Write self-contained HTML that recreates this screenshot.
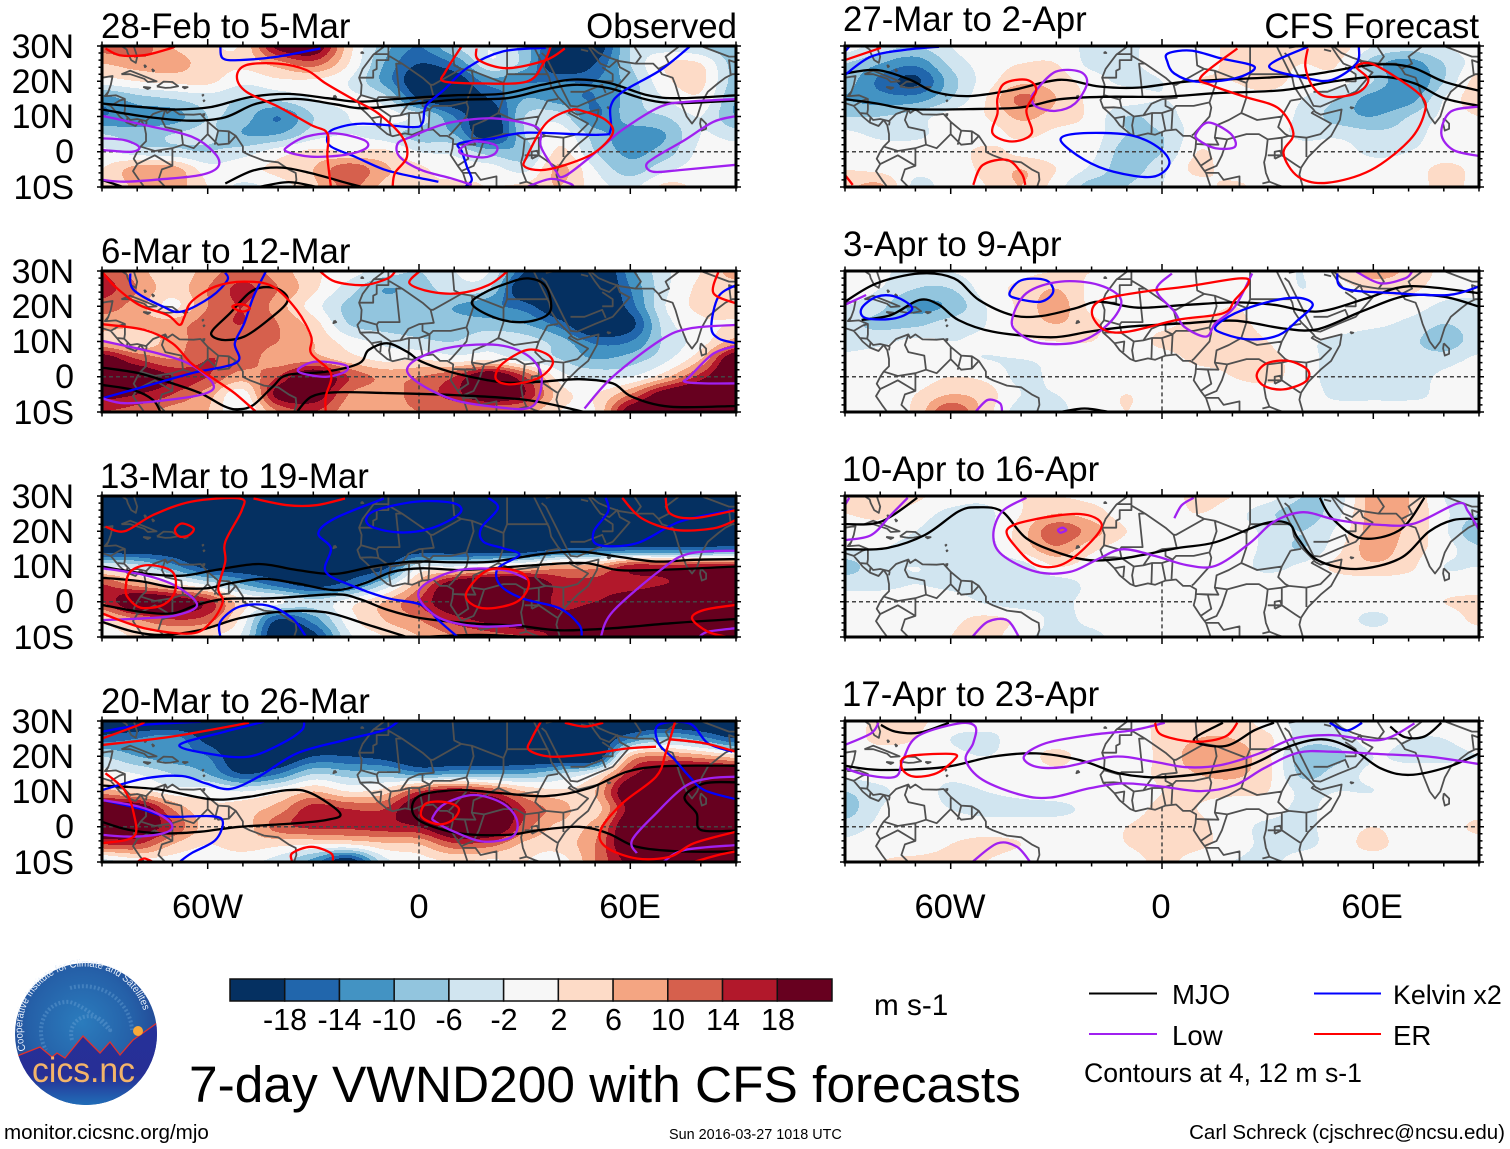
<!DOCTYPE html>
<html lang="en">
<head>
<meta charset="utf-8">
<title>7-day VWND200 with CFS forecasts</title>
<style>
html,body{margin:0;padding:0;background:#fff;}
svg{display:block;font-family:"Liberation Sans",sans-serif;fill:#000;}
</style>
</head>
<body>
<svg id="figure" xmlns="http://www.w3.org/2000/svg" width="1510" height="1149" viewBox="0 0 1510 1149">
<rect width="1510" height="1149" fill="#fff"/>
<g id="panels"></g>

<g font-size="34.8">
<text x="101" y="38">28-Feb to 5-Mar</text>
<text x="101" y="263">6-Mar to 12-Mar</text>
<text x="100" y="488">13-Mar to 19-Mar</text>
<text x="101" y="713">20-Mar to 26-Mar</text>
<text x="843" y="31">27-Mar to 2-Apr</text>
<text x="843" y="256">3-Apr to 9-Apr</text>
<text x="842" y="481">10-Apr to 16-Apr</text>
<text x="842" y="706">17-Apr to 23-Apr</text>
<text x="737" y="38" text-anchor="end">Observed</text>
<text x="1479" y="38" text-anchor="end">CFS Forecast</text>
</g>

<g font-size="34" text-anchor="end">
<text x="74" y="58">30N</text>
<text x="74" y="93">20N</text>
<text x="74" y="128">10N</text>
<text x="74" y="163">0</text>
<text x="74" y="199">10S</text>
<text x="74" y="283">30N</text>
<text x="74" y="318">20N</text>
<text x="74" y="353">10N</text>
<text x="74" y="388">0</text>
<text x="74" y="424">10S</text>
<text x="74" y="508">30N</text>
<text x="74" y="543">20N</text>
<text x="74" y="578">10N</text>
<text x="74" y="613">0</text>
<text x="74" y="649">10S</text>
<text x="74" y="733">30N</text>
<text x="74" y="768">20N</text>
<text x="74" y="803">10N</text>
<text x="74" y="838">0</text>
<text x="74" y="874">10S</text>
</g>

<g font-size="34.6" text-anchor="middle">
<text x="207.5" y="918">60W</text>
<text x="419" y="918">0</text>
<text x="630" y="918">60E</text>
<text x="950" y="918">60W</text>
<text x="1161" y="918">0</text>
<text x="1372" y="918">60E</text>
</g>

<g id="colorbar"></g>
<g font-size="30.5" text-anchor="middle">
<text x="285" y="1030">-18</text>
<text x="339.5" y="1030">-14</text>
<text x="394" y="1030">-10</text>
<text x="449" y="1030">-6</text>
<text x="504" y="1030">-2</text>
<text x="559" y="1030">2</text>
<text x="613.5" y="1030">6</text>
<text x="668" y="1030">10</text>
<text x="723" y="1030">14</text>
<text x="778" y="1030">18</text>
</g>
<text x="874" y="1015" font-size="29.7">m s-1</text>

<text x="189" y="1102" font-size="51.45">7-day VWND200 with CFS forecasts</text>

<g font-size="27.6">
<line x1="1089" x2="1157" y1="993.5" y2="993.5" stroke="#000" stroke-width="2"/>
<text x="1172" y="1004">MJO</text>
<line x1="1314" x2="1381" y1="993.5" y2="993.5" stroke="#0000ff" stroke-width="2"/>
<text x="1393" y="1004" font-size="26.8">Kelvin x2</text>
<line x1="1089" x2="1157" y1="1034" y2="1034" stroke="#a020f0" stroke-width="2"/>
<text x="1172" y="1045">Low</text>
<line x1="1314" x2="1381" y1="1034" y2="1034" stroke="#ff0000" stroke-width="2"/>
<text x="1393" y="1045">ER</text>
<text x="1084" y="1082" font-size="26.6">Contours at 4, 12 m s-1</text>
</g>

<text x="4" y="1139" font-size="20.6">monitor.cicsnc.org/mjo</text>
<text x="669" y="1139" font-size="14.4">Sun 2016-03-27 1018 UTC</text>
<text x="1505" y="1139" font-size="20.5" text-anchor="end">Carl Schreck (cjschrec@ncsu.edu)</text>

<g>
<defs>
<radialGradient id="logoSky" cx="0.47" cy="0.42" r="0.62">
<stop offset="0" stop-color="#2b7cbd"/><stop offset="0.6" stop-color="#2560a8"/><stop offset="1" stop-color="#23408f"/>
</radialGradient>
<linearGradient id="logoGround" x1="0" y1="0" x2="0" y2="1">
<stop offset="0" stop-color="#26309a"/><stop offset="0.6" stop-color="#272f95"/><stop offset="1" stop-color="#1f78bd"/>
</linearGradient>
<clipPath id="logoClip"><circle cx="86" cy="1034" r="71"/></clipPath>
<path id="logoRing" d="M 26 1050 A 62 62 0 1 1 146 1024"/>
</defs>
<circle cx="86" cy="1034" r="71" fill="url(#logoSky)"/>
<path d="M 72 1040 C 66 1018 92 1008 106 1024 C 120 1044 96 1010 70 1002 C 44 1000 34 1030 46 1050 M 70 988 C 100 980 130 1000 132 1030" fill="none" stroke="#6fa6d6" stroke-width="4" stroke-dasharray="2 2" opacity="0.4"/>
<g clip-path="url(#logoClip)">
<path d="M 10 1058 L 17 1056 L 40 1047 L 52 1057 L 57 1053 L 65 1058 L 83 1036 L 100 1053 L 110 1042 L 120 1055 L 133 1040 L 157 1023 L 165 1023 L 165 1110 L 10 1110 Z" fill="url(#logoGround)" stroke="#e0322e" stroke-width="1.3"/>
</g>
<circle cx="138" cy="1031" r="5" fill="#f8a93a"/>
<text x="32" y="1082" font-size="35" fill="#f4b469" textLength="103" lengthAdjust="spacingAndGlyphs">cics.nc</text>
<text font-size="10.4" fill="#e8f0fa"><textPath href="#logoRing" textLength="198" lengthAdjust="spacingAndGlyphs">Cooperative Institute for Climate and Satellites</textPath></text>
</g>
</svg>

<script>
/* ---------- axes and colour classes ---------- */
const lons = [-90,-80,-70,-60,-50,-40,-30,-20,-10,0,10,20,30,40,50,60,70,80,90];
const lats = [30,25,20,15,10,5,0,-5,-10];
const breaks = [-18,-14,-10,-6,-2,2,6,10,14,18];
const bandColors = ['#053061','#2166ac','#4393c3','#92c5de','#d1e5f0','#f7f7f7','#fddbc7','#f4a582','#d6604d','#b2182b','#67001f'];
const panelKeys = ['feb28','mar06','mar13','mar20','mar27','apr03','apr10','apr17'];

/* ---------- 200 hPa meridional wind anomaly, m/s: rows by lats, columns by lons ---------- */
const windFeb28 = [
[12,13,6,3,3,20,23,4,-8,-14,-6,-2,-8,-20,-22,-6,-4,-6,-10],
[6,8,8,4,3,8,12,2,-10,-18,-14,-3,-8,-24,-18,-6,2,2,-8],
[0,2,3,3,-1,1,1,-2,-11,-22,-22,-12,-14,-14,-14,-8,1,3,-8],
[-12,-8,-6,-4,-6,-5,-2,-1,-4,-18,-22,-18,-10,-12,-14,-8,-2,1,-10],
[-14,-12,-12,-6,-8,-14,-6,-2,0,-4,-14,-22,-6,-4,-14,-8,-6,-2,-10],
[-6,-8,-6,-5,-10,-10,-4,-2,-4,-8,-10,-22,-6,0,-8,-12,-10,-2,-4],
[-1,-4,-5,-6,-4,0,3,2,3,-2,-3,-8,-8,3,-6,-11,-8,-1,0],
[2,8,8,0,1,3,6,13,7,3,0,0,-3,7,-2,-8,-3,0,0],
[2,7,8,2,-3,0,5,11,5,2,3,2,3,6,0,-3,3,1,0]];
const windMar06 = [
[14,8,3,8,12,8,3,0,-4,-6,-2,-2,-18,-26,-26,-12,-3,2,8],
[16,10,4,10,15,10,3,-4,-10,-8,-4,-6,-24,-26,-26,-14,-3,3,4],
[12,8,1,10,14,8,0,-7,-8,-8,-10,-13,-16,-24,-26,-16,-2,3,4],
[8,7,8,12,14,10,4,-6,-8,-8,-8,-8,-10,-16,-26,-20,-4,1,2],
[6,3,8,12,12,10,6,0,-3,-5,-6,-3,-4,-8,-15,-14,-5,0,8],
[22,14,10,14,12,8,8,4,1,2,0,1,-3,-6,-10,-8,-3,6,24],
[24,24,18,14,8,14,24,14,9,10,14,24,14,0,-3,-2,5,16,26],
[20,18,14,8,0,20,22,10,8,12,16,24,18,4,2,10,22,26,26],
[14,12,8,6,-2,10,14,8,8,10,10,9,8,2,2,22,26,26,26]];
const windMar13 = [
[-24,-24,-24,-24,-24,-24,-24,-24,-24,-24,-24,-24,-24,-24,-24,-24,-24,-24,-24],
[-24,-24,-24,-24,-24,-24,-24,-24,-24,-24,-24,-24,-24,-24,-24,-24,-24,-24,-24],
[-24,-24,-24,-24,-24,-24,-24,-24,-24,-24,-24,-24,-24,-24,-24,-24,-24,-24,-24],
[-22,-22,-22,-24,-24,-24,-24,-24,-24,-22,-22,-22,-22,-18,-17,-16,-16,-16,-15],
[-2,-4,-12,-20,-22,-22,-22,-22,-20,-3,-2,2,4,8,8,16,16,17,18],
[14,8,3,-3,-10,-16,-20,-16,-6,8,22,26,26,16,16,16,18,22,24],
[14,24,22,16,3,-1,-5,0,6,14,24,26,26,16,18,22,26,26,26],
[4,10,14,12,0,-18,-12,0,6,10,16,20,24,20,26,26,26,26,26],
[-2,3,4,2,-3,-24,-20,-3,2,6,10,12,14,20,26,26,26,26,26]];
const windMar20 = [
[-24,-24,-24,-24,-24,-24,-24,-24,-24,-24,-24,-24,-24,-24,-24,-24,-24,-24,-24],
[-16,-14,-12,-20,-24,-24,-24,-24,-24,-24,-24,-24,-24,-24,-24,-14,-8,-12,-18],
[-6,-10,-12,-14,-24,-24,-18,-18,-20,-24,-24,-24,-24,-24,-24,6,10,8,4],
[0,-2,-6,-10,-18,-14,-6,-8,-8,-12,-10,-10,-10,-6,0,16,24,24,24],
[8,4,0,0,-2,1,6,2,4,14,18,14,6,3,6,24,26,26,26],
[24,24,10,3,4,8,16,14,14,24,26,26,14,8,4,20,26,26,26],
[24,24,14,4,4,12,15,15,16,18,26,26,12,5,8,24,26,26,26],
[14,14,6,2,4,3,2,2,5,6,13,12,5,4,10,24,26,26,26],
[-4,0,0,-1,-1,-4,-12,-22,-4,0,2,1,2,0,10,20,26,26,26]];
const windMar27 = [
[0,-4,-6,-2,2,0,0,-3,-3,0,0,3,3,2,4,-2,-4,-2,0],
[-6,-10,-13,-5,0,2,2,-3,-3,0,0,3,3,2,2,-8,-12,-6,0],
[-8,-15,-19,-8,0,5,4,0,-3,-2,2,2,4,0,0,-6,-14,-6,4],
[-10,-12,-12,-6,2,11,6,1,0,-2,0,0,0,-2,-6,-12,-12,-2,5],
[-6,-6,-4,0,2,7,4,1,-6,-4,0,0,0,-3,-8,-10,-6,-1,2],
[-1,-3,-3,0,0,3,1,0,-6,-6,0,0,0,-3,-3,-5,-4,0,0],
[1,0,0,0,3,1,0,-1,-8,-6,2,0,0,0,0,-3,-2,0,0],
[2,1,-1,0,3,6,2,-3,-8,-3,3,0,0,0,0,0,0,3,1],
[5,7,-3,0,2,6,0,-8,-6,-2,0,3,0,0,0,0,0,3,1]];
const windApr03 = [
[0,-1,-4,-2,0,1,2,2,0,0,0,0,0,-2,3,8,5,1,0],
[0,-2,-6,-6,0,3,6,1,0,0,0,0,0,-2,0,3,3,0,0],
[-2,-5,-11,-9,-2,3,8,1,0,0,0,2,0,-1,0,0,0,-3,-4],
[-5,-7,-7,-4,-2,3,6,3,0,1,3,3,1,0,0,-1,-3,-6,-4],
[-4,-3,-1,-2,-1,1,2,2,0,3,4,3,2,-1,-3,-5,-5,-8,-4],
[-1,0,0,-1,-2,-2,-1,0,0,0,3,3,3,0,-4,-4,-4,-4,-1],
[-2,0,0,2,1,-3,-1,0,0,0,0,2,3,0,-4,-4,-4,-1,2],
[0,0,2,6,4,-2,-2,0,2,0,0,0,0,0,-3,-3,-3,-1,1],
[0,0,3,14,4,-4,-3,0,2,0,0,0,0,-2,0,0,0,-2,0]];
const windApr10 = [
[4,6,3,0,-1,2,2,1,0,0,3,2,0,-6,-4,8,6,-2,-6],
[2,3,0,-3,-3,2,6,4,0,0,2,0,-5,-8,-3,8,6,-1,-6],
[0,0,-2,-4,-3,4,13,8,2,0,0,0,-3,-6,-1,8,5,-1,-10],
[-2,-2,-3,-4,-4,3,9,3,0,0,0,0,-3,-6,1,8,4,0,-5],
[-8,-3,-2,-3,-4,-4,2,0,0,0,0,0,-3,-1,3,5,3,-2,-2],
[-3,-3,-2,-3,-4,-4,-4,-1,0,0,0,0,0,0,0,0,0,0,0],
[-1,0,0,0,-2.5,-4,-3,-1,0,0,0,0,0,0,0,0,0,2,3],
[0,0,0,1,3,1,-3,-1,0,0,0,0,0,0,0,-3,0,0,3],
[2,0,0,2,4,-1,-3,-3,0,0,0,0,0,0,0,0,0,0,0]];
const windApr17 = [
[0,3,3,0,0,-2,0,0,0,3,4,4,0,-3,-2,2,0,0,0],
[0,3,2,-2,-3,0,0,0,0,3,6,6,3,-4,-4,0,-2,-2,0],
[0,0,0,-1,-2,0,3,0,0,3,8,8,3,-8,-7,-2,-3,-3,-2],
[-1,0,0,-1,0,0,1,0,0,3,6,7,3,-7,-4,-1,0,0,0],
[-6,-3,0,-3,-2,-1,0,0,0,2,3,3,2,-3,-2,-2,0,0,0],
[-8,-2,0,-2,-3,-3,-3,-1,0,3,2,0,0,-3,0,0,0,0,0],
[-4,-1,0,0,0,0,0,0,2,4,3,0,-3,-3,0,2,0,0,3],
[-1,0,0,2,3,2,0,0,2,4,3,0,-3,-3,0,3,0,0,0],
[0,2,3,3,2,0,0,0,0,3,0,-2,-3,0,0,0,0,0,0]];

/* ---------- contours: flat lon,lat pairs. A repeated first point closes the loop ---------- */
const mjoFeb28 = [
[-90,13.7,-78,12.6,-69,12,-59,12.7,-48,15.5,-37,16.4,-26,15.2,-17,14.2,-6,15,10,16,24,16.5,35,19,44,20.5,54,19.5,65,16,74,15.2,90,16],
[-90,12,-78,10,-65,8.8,-55,9.8,-46,13.7,-35,15,-24,13.5,-16,12.3,-3,13.5,10,14.7,25,15.2,35,17.5,44,19,54,18,65,14.7,74,13.8,90,14.5],
[-55,-9,-47,-5.3,-39,-4.5,-31,-6,-20,-9,-16,-10],
[-45.5,-10,-37,-8.6,-29,-10],
[-90,-8,-84,-10]];
const kelvinFeb28 = [
[-56.4,29.8,-55.7,26.5,-51,26,-40,27,-28,29.3],
[76.8,29.8,68.6,23.2,57.8,17,54.4,12.8,54.4,6.2,51,4.8,30.6,5.4,21,3.8,11.5,2.4,12.2,0,13.6,-4.2,15,-8,13,-10],
[36,29.5,24,28.5,14,24,7,17.5,2,13,1,8.2,-2,7,-16,8,-24,6.5,-26,4.3,-25,1.5,-18,-1.5,-10,-5,-2,-7,5.5,-8.5]];
const erFeb28 = [
[12,29.8,7.5,22.7,7,20,17,19.4,30.6,19.9,35.3,25,37.4,29.8],
[16.3,29.3,17,26,25,23.7,36,26,41.4,29.3],
[-25,-10,-26,-1.4,-26,5.2,-30.6,7.6,-40,12.8,-49,17,-51.7,21.3,-49,24.6,-40,25,-32,23.2,-26.5,19.4,-18.4,14.7,-11.6,10.9,-4.8,4.3,-3.4,-1.4,-6.8,-6,-7.5,-10],
[42.8,11.8,36,8,30.6,-1.4,30,-4.2,34.6,-5.2,41.4,-3.8,49.6,-0.4,55,5.2,53,9,47,11.4,42.8,11.8],
[-89,29.3,-85,27.4,-78,27.4,-72,28.9,-69.3,29.8]];
const lowFeb28 = [
[-90,10.2,-78,7.6,-64.6,4.3,-58,-0.4,-57,-4.2,-62,-6.6,-73,-7.8,-83.6,-8.5,-90,-8],
[-90,3.8,-83.6,3.3,-79.5,1.4,-81.6,0,-90,0.5],
[-37.4,1.4,-32,4.3,-23.8,5.2,-15.6,3.3,-15,1,-21,-0.9,-30.6,-1.4,-37.4,0,-37.4,1.4],
[15,-9.4,9,-7.5,0.7,-5.2,-5.5,-1.4,-6,2.4,-2,4.3,3.4,6.6,10,8.5,21,9.5,32,7.6,34.6,5.2,34.6,1.4,38.7,-5.2,41.4,-6.9,51,0.5,57.7,6.2,68.6,12.8,76.8,14.2,90,14.9],
[11.5,0.5,15.6,2.9,21.7,1.9,21.7,-0.4,18.3,-1.6,13,-0.9,11.5,0.5],
[30.6,-10,37.4,-7.7,42.8,-9,44,-10],
[90,10.1,83.6,8.5,75.4,3.3,67.3,-1.4,64.5,-3.8,66.6,-5.7,74,-5.2,90,-3.7]];

const mjoMar06 = [
[15,20.8,18.3,23.7,25,26.5,31,27.9,36,25.6,37.4,18.9,33.2,16.1,26.5,15.6,19.7,17.5,15,20.8],
[-58.5,13.3,-53.7,18,-48.3,23.7,-44.2,25.4,-39.4,24.6,-37.4,21.3,-42.8,16.1,-49.6,11.4,-55,10.4,-58.5,11.4,-58.5,13.3],
[-90,2.6,-79.5,1,-70,-1.9,-62,-4.7,-55,-8.5,-51,-9.2,-47,-8,-41.5,-2.8,-37.4,0.5,-26.5,1.4,-17,3.8,-14.3,7.6,-9,9.5,-3.4,7.1,0.7,4.3,8.8,1.4,17,-0.5,25,-1.7,34.6,-1.4,45.5,-0.7,55,-1.9,60.5,-5.7,71.3,-8.5,90,-8.3],
[-90,-2.3,-81,-3.8,-75.5,-6.6,-73.4,-10],
[-34.7,-10,-30.6,-5.7,-23.8,-4.4,-10,-4.6,10,-5.2,30.6,-6.6,47,-10]];
const kelvinMar06 = [
[-82,29.3,-81,24.6,-72.7,19.9,-67.3,18.5,-59,22.7,-54.4,27.4,-55,29.5],
[-43.5,29.8,-47,22.7,-49.6,15.2,-52.3,9.5,-51.7,4.1,-64.6,1,-78,-2.8,-90,-6.1],
[90,26,85,22.7,83,14.2,85,10.9,90,9.5]];
const erMar06 = [
[-28,29.8,-23.8,27,-15.6,26,-8.9,27.9,-6.8,29.8],
[0,29.8,-2.7,26.5,3.4,24.1,11.5,23.7,19.7,26,25,29.8],
[-90,29.8,-86.3,25.6,-79.5,20.4,-71.4,17.5,-68,14.7,-66.6,17,-64.6,21.3,-57.8,25.6,-49.6,27,-41.5,25.6,-34.7,18.9,-30.6,11.4,-30.6,6.6,-25,1,-26.5,-5.7,-26.5,-10],
[-90,14.9,-78,13.3,-70,9.5,-64.6,3.8,-57.8,-0.9,-52.3,-4.7,-46.2,-10],
[-53,19.9,-50.3,20.6,-48,19.4,-50.3,18.5,-53,19.9],
[21.7,0,23.8,3.8,30.6,7.6,36,6.6,38,3.8,34.6,0,28.5,-1.9,23.8,-1.9,21.7,0],
[85,29.8,83.6,23.7,90,20.8]];
const lowMar06 = [
[-90,10.2,-74,6.6,-64.6,3.3,-58.5,-1.9,-60.5,-4.7,-71.4,-6.6,-83.6,-7.5,-90,-6.1],
[-34,2.4,-29.2,4.3,-21,3.3,-21,1.4,-26.5,0,-33.3,1,-34,2.4],
[-3.4,1.9,0.7,5.7,10,8.5,22.4,9,30.6,6.2,34.6,1,34,-5.7,30.6,-9,21,-8.5,10,-6.6,0.7,-2.3,-3.4,1.9],
[47,-9,55,0,68.6,10.4,76.8,13.7,90,14.7],
[90,8.7,83.6,6.6,76.8,0,75.4,-1.4,81,-1.9,90,-1.9]];

const mjoMar13 = [
[-90,10,-78,8,-67.3,7.4,-57.8,9,-45.5,10.7,-34.7,9,-23.8,7.9,-13,10,-2,11.4,10,11.2,21,11.4,34.6,13.5,45.5,14.2,56.4,12.8,67.3,11.4,78,11.9,90,12.1],
[-90,6.8,-79.5,5.9,-70,4.1,-60.5,3.8,-53.7,5.2,-44.2,6.5,-34.7,5.2,-23.8,3.3,-15.6,5.2,-7.5,8.5,0.7,9.5,11.5,9,21,9.5,33.2,10.4,47,11,56.4,9,67.3,9,90,10],
[-90,-0.9,-79.5,-2.8,-70,-3.3,-63,-0.9,-55,0.8,-41.5,1,-23.8,2.1,-17,0.8,-8.9,-2.3,0.7,-4.7,14.3,-6.1,27.8,-6.8,40,-8.1,55,-7.5,71.3,-6.1,90,-4.9],
[-90,-5.7,-81,-8.5,-72.7,-9.4,-62,-8,-51,-4.7,-39,-2.8,-26.5,-3,-14.3,-6.6,-3.4,-10],
[0.7,-10,17,-9.4,30.6,-10]];
const kelvinMar13 = [
[-10,29.3,-23.8,23.7,-28.6,19.4,-25,15.2,-26.5,8.5,-18.4,4.3,-8.9,1,0.7,-0.9,6,-5.7,11,-10],
[-14.3,21.8,-13,25.6,-0.7,28.4,10,27.9,11.5,25,3.4,20.8,-6,19.7,-14.3,21.8],
[19.7,29.5,22.4,26.5,17.6,20.8,18.3,17,23.8,15.2,28.5,13.3,22.4,9.5,23,4.8,29.2,1,40,-1.9,45.5,-6.6,46.2,-10],
[53,29.5,53.7,25.6,49.6,19.9,51,16.1,61.8,16.6,74,22.7,89,26],
[-56.4,-10,-56.4,-5.7,-51,-1.4,-42.8,-1.1,-36,-4.7,-32,-10]];
const erMar13 = [
[-89,21.3,-83.6,20,-75.5,24.6,-64.6,28.4,-51,29.3,-50.3,26,-55,17,-55,11.4,-57,3.8,-55.7,0,-59,-5.7,-64.6,-9,-78,-7.5,-90,-3.3],
[-69.3,20.4,-67.3,22.2,-64,20.8,-65.3,18.9,-68,18.5,-69.3,20.4],
[-83.3,3.8,-82,8.5,-76.8,10.4,-70,8.5,-69.3,2.9,-72.7,-0.9,-79,-1.7,-82.5,1,-83.3,3.8],
[-47,29.3,-37.4,27.4,-29.2,27.4,-21,29.3],
[13.6,2.9,19.7,9,28.5,8.5,31.2,4.8,27.8,0,19.7,-1.9,14.7,-0.5,13.6,2.9],
[57.7,29.5,63.2,23.7,72.7,20.4,83.6,20.8,90,23.2],
[70,29.5,71.3,25,78,23.7,90,26],
[90,-0.9,81,-2.3,77.5,-4.7,82,-8.5,87.6,-10]];
const lowMar13 = [
[-90,9.5,-78,7.6,-68.7,4.3,-63,-0.9,-68.7,-3.8,-78,-4.7,-90,-5.2],
[29.2,-6.6,17,-7,6,-4.7,0,1,2,5.2,11.5,9,23.8,9,31.2,6.2],
[51.6,-10,55,-2.8,68.6,9,76.8,13.7,90,14.5],
[79.5,-10,82,-8.5,90,-7.5]];

const mjoMar20 = [
[-90,11.7,-74,10.6,-59,7.8,-48.3,8.5,-37.4,10.4,-30.6,9.5,-22.4,3.8,-26.5,1.9,-37.4,0.8,-51,0,-62,-1.4,-72.7,-1.9,-82.3,-0.9,-90,1.4],
[90,17.3,70,17.2,59,15.6,48.2,10.9,36,8.7,23.8,9.5,11.5,10.4,0.7,9,-2,5.2,0.7,1.4,11.5,-1.9,25,-2.3,34.6,-0.9,45.5,0,53.7,-1.9,61.8,-5.7,74,-7,90,-7],
[90,12.6,81,12.3,75.4,8.5,78.8,3.8,80,-0.9,90,-1.1]];
const kelvinMar20 = [
[-90,10.4,-78,13.7,-67.3,14.4,-60.5,12.3,-53.7,10.7,-45.5,14.2,-34.7,20.8,-21,24.6,-10,27.4,-6,29.8],
[-44,29.8,-55,27,-68,23.2,-59,20.6,-48.3,19.9,-38.8,23.7,-33.3,27.4,-32.6,29.8],
[-90,27,-78,28.9,-62,29.8],
[-90,7.6,-79.5,5.2,-71.4,2.9,-59,3,-55.7,1.4,-57.8,-3.8,-64.6,-7.5,-68,-10],
[89,21.3,82,23.7,76.8,29.3,68,28.9,68,23.7,72.7,18.9,76.8,14.2,81,10.4,90,7.8]];
const erMar20 = [
[-90,25,-79.5,28.9,-78,29.8],
[-90,23.2,-70,25.6,-48.3,29.5],
[34.6,29.8,32,25,31.2,21.8,37.4,19.9,48.2,20.6,59,22.2,67.3,22.7],
[72.7,29.8,70,20.8,67.3,14.2,57.7,6.6,51.6,-0.9,53,-5.7,61.8,-9,71.3,-8.5,78,-4.7,90,-1.4],
[-89,15.2,-83.6,10.4,-81,3.8,-81,-2.8,-90,-4.7],
[0.7,2.9,2,6.6,7.5,7,11.3,5.2,9.5,1.9,5.4,0.7,0.7,2.9],
[-36,-10,-36,-7.5,-30.6,-5.7,-25,-7.5,-24.5,-10],
[-80,-10,-78,-9,-75.5,-10],
[41.4,29.5,47,28.4,52.3,29.5],
[71.3,24.8,81,23.7,90,21.3],
[78,-10,85,-8,90,-7]];
const lowMar20 = [
[-90,7.6,-79.5,5.7,-72.7,2.9,-70,0,-72.7,-1.9,-81,-2.8,-90,-2.3],
[4,2.9,7.5,6.6,15.6,9,23.8,6.6,27.8,1.9,26.5,-2.8,18.3,-4.2,10,-1.4,4.7,1.4,4,2.9],
[61.8,-7.5,60.5,-3.8,67.3,3.8,75.4,11.4,82.2,13.7,90,14.2],
[69.3,-10,75.4,-6.6,90,-5.2]];

const mjoMar27 = [
[-90,22.2,-81,23.2,-71.5,20.4,-64.7,17,-55,15.8,-42.6,17.5,-29,20.4,-17.8,18.5,-6.8,18.2,7,19.9,24.9,20.8,41.4,21.8,59.3,24.6,70.3,24.1,80,19.9,90,17.3],
[-90,14.9,-81,13.7,-71.5,12.1,-55,12.1,-39.9,12.6,-29,14.9,-16.4,15.6,0,15.6,15.2,16.6,34.5,17.5,48.3,19.9,62,21.3,71.7,19.4,80,15.2,90,13]];
const kelvinMar27 = [
[-90,21.8,-82.6,27,-73,28.9,-63.3,29.8],
[-90,28.4,-88.8,29.8],
[1.7,27.9,8.3,28.7,16.6,26.5,26.3,24.1,20.7,20.8,9.7,19.9,3.5,22.2,1.5,25.6,1.7,27.9],
[41.4,29.8,30.4,24.2,41.4,20.8,48.3,20.4,55.2,25,55.9,29.8],
[-28.8,3.3,-23.3,5.2,-9.6,4.8,-1.3,1.4,2.1,-3.3,-2.7,-7.1,-13.7,-5.7,-22,-2.3,-28.8,3.3]];
const erMar27 = [
[-90,26,-79.8,29.5],
[21.4,29.3,11.1,21.3,13.9,18.9,23.5,15.6,33.1,12.3,37.3,5.2,34.5,-0.4,38.7,-7.1,46.9,-8.8,59.3,-5.2,70.3,3.3,74.5,10.9,73.8,15.6,66.2,21.3,59.3,25,55.2,24.1,58.6,20.4,55.2,16.6,46.9,15.6,42.8,18.5,40.7,24.1,41.4,29.3],
[-46.7,15.2,-44.7,19.4,-38.5,20.4,-35.7,17.5,-38.5,11.8,-37,5.2,-42.6,2.9,-48.1,5.2,-46.7,10.9,-46.7,15.2],
[-53.6,-9.4,-50.9,-3.8,-44,-2.3,-39.9,-6.1,-38.8,-9.4],
[-90,-6.6,-87.8,-9.4]];
const lowMar27 = [
[-35.7,17.5,-30.2,22.7,-23.3,22.7,-21.3,19.4,-24.7,13.7,-30.2,11.6,-35.7,12.8,-37,15.2,-35.7,17.5],
[9.7,5.2,13.2,8.3,19.4,5.2,20.7,1.4,15.2,1,10.4,3.3,9.7,5.2],
[90,12.8,82,11.4,79.3,5.2,82.7,0.5,90,-1.2]];

const mjoApr03 = [
[-90,21.3,-81,26.5,-68.8,29.3,-59,27.9,-52,21.8,-42.6,17.5,-34.4,17.2,-24.7,19.4,-17.8,21.3,-6.8,19.6,7,20.4,20.7,21.1,31.8,20.4,44.2,18.5,58,22.2,70.3,25.7,90,23.7],
[-85.3,16.1,-77,17.5,-68.8,21.8,-63.3,20.4,-57.8,16.1,-48.1,12.8,-31.6,11.2,-20.6,12.8,-9.6,14.2,7,15.2,20.7,15.9,34.5,13.7,44.2,13.5,56.6,18.5,69,22.9,80,22.7,90,19.9],
[-28.8,-10,-22,-9,-15,-10]];
const kelvinApr03 = [
[-85.3,19.4,-81,22.7,-75.7,22.7,-70.9,19.4,-75.7,16.6,-84,16.6,-85.3,19.4],
[-43.3,23.7,-39.9,27.4,-33,27.4,-30.9,24.1,-34.4,21.3,-41.2,22.2,-43.3,23.7],
[15.2,14.2,20.7,18,30.4,21.3,38.6,22.4,42.8,20.4,38.6,16.1,33.1,11.8,24.9,10.6,17.3,12.3,15.2,14.2],
[49.7,29.3,51.7,25,66.2,23.7,81.3,23.2,90,25.6]];
const erApr03 = [
[-19.9,18,-17.1,21.8,-5.4,24.1,7,25.6,22.1,27.9,24.6,26.5,20.7,21.8,17.3,18,4.2,16.1,-9.6,12.8,-16.4,13.3,-19.9,18],
[26.9,0.5,29.7,3.8,35.9,4.5,41.4,1.9,40.7,-1.4,34.5,-3.6,29,-2.6,26.9,0.5]];
const lowApr03 = [
[-42.6,16.1,-38.5,23.7,-28.8,27,-17.8,26,-11.6,21.8,-15,15.2,-23.3,10,-34.4,9.5,-40.6,12.3,-42.6,16.1],
[2.8,29.3,-1.6,24.6,3.5,18.5,6.3,14.2,12.5,11.4,15.2,15.2,20.7,19.9,25.6,29.3],
[55.2,29.8,62,26.5,69,27.9,71,29.8],
[-53,-10,-49.5,-6.6,-46,-7.5,-45.4,-10],
[-90,20.4,-84,23.2]];

const mjoApr10 = [
[-90,22,-79.8,22.7,-69.5,29.5],
[-90,14.9,-78.4,15.2,-67.4,18.9,-57.8,25.6,-52.3,26.8,-45.4,25.6,-38.5,18,-28.8,13.7,-20.6,11.8,-11,12.3,4.2,15.2,15.2,16.9,29,22.2,35.9,22.2,38.6,18,44.2,11.8,55.2,9.3,67.6,12.3,75.8,19.9,82.7,23.2,90,23.5],
[44.8,29.5,48.3,23.7,56.6,18,67.6,20.4,74.5,29.5]];
const kelvinApr10 = [];
const erApr10 = [
[-44,20.4,-37,23.2,-23.3,24.9,-17.1,21.8,-22,15.2,-28.8,10.4,-35.7,10.4,-41.2,15.2,-44,20.4]];
const lowApr10 = [
[-90,17.5,-82.6,18.9,-77,24.6,-72.2,29.5],
[-38.5,29.5,-45.4,25.6,-47.9,18.9,-45.4,13.3,-35.7,8.5,-26,8.5,-17.8,12.3,-11,14.9,-1.3,12.8,7,10.4,15.2,10.2,24.9,16.6,31.8,22.7,40,25.4,49.7,23.2,62,21.8,71.7,22.2,84,27.9,86.9,25.6,90,20.4],
[3.5,23.7,5.6,27.4,9,29.5],
[-29.5,20.4,-28.2,21,-27.2,20.3,-28.8,19.6,-29.5,20.4],
[-53.9,-10,-49.5,-5.7,-44,-5.2,-40.6,-10],
[-90,27.4,-88.8,29.5]];

const mjoApr17 = [
[-90,17.3,-79.8,16.1,-61.9,16.9,-48.1,19.9,-35.7,20.8,-23.3,18.9,-12.3,15.2,-1.3,14,12.5,15.2,24.9,17.5,35.9,22.7,45.5,24.8,53.8,22.2,62,16.6,70.3,14.7,81.3,17,90,20.8],
[-79.8,28.9,-75.7,27,-68.8,26.7,-60.5,29.5],
[17.3,29.5,9,24.6,18,22.9,26.3,27.4,31.8,29.5],
[64.8,28.4,69,25.4,74.5,25.6,79.3,29.5]];
const kelvinApr17 = [
[47.6,29.5,52.4,27.3,56.8,29.5]];
const erApr17 = [
[-73.6,19.4,-68.8,20.4,-59.1,20.6,-59.1,18.9,-64,15.2,-70.2,14.2,-73.6,16.1,-73.6,19.4],
[-2,29.5,0,26,9.7,24.1,18,25.6,21.4,29.5]];
const lowApr17 = [
[-90,16.6,-84,14.7,-75.7,14.2,-73.6,18.9,-69.5,25.6,-57.8,29.3,-53,28.4,-53.6,23.7,-55.7,18.9,-50.9,13.3,-39.9,9,-31.6,8.3,-20.6,10.9,-11,12.3,0,11.4,11.1,10.1,20.7,11.8,29,16.6,38.6,21,48.3,21.3,62,20.6,75.8,19.9,90,17.8],
[-90,23.2,-82.6,26.5,-80.5,29.5],
[0.8,29.5,-8.2,27.4,-20.6,26,-33,23.7,-39.2,19.9,-35.7,17,-27.5,17,-13.7,19.9,-2.7,18.5,7,16.9,16.6,17.5,27.6,20.8,37.3,25,48.3,26,62,24.6,71.7,29.3],
[-53.9,-10,-46.7,-4.7,-41.2,-5.7,-37.4,-10]];

/* ---------- coastlines and borders: flat lon,lat pairs ---------- */
const coastlines = [
[-81,30,-80,27,-80.4,25.2,-81.7,26,-82.7,28,-83,29,-84.5,30],
[-90,21,-87,21.5,-87.5,19,-88.2,17,-88.8,15.8,-86,16,-83.5,15,-83.5,12,-83.7,10.8,-82,9,-80,9.3,-77.5,8.7,-75.5,10.7,-72,12,-71.5,11,-70,12,-68,10.6,-64,10.5,-62,10.7,-60,8.5,-57,6,-54,5.8,-52,4.5,-50,1.5,-50,0,-48,-1,-44,-2.5,-40,-3,-37,-5,-35,-6,-34.8,-8,-35.5,-10],
[-90,13.8,-87.5,13,-85.8,11,-85,10,-83,8.3,-80.5,7.3,-79,9,-78,7.5,-77.5,5,-77.5,3,-79,1.5,-80,0,-81,-2,-80,-3.5,-81.2,-5.5,-79.5,-8,-78,-10],
[-72,12,-73,9,-72,7,-67.5,6,-67,2,-70,1,-70,-4,-73,-5,-74,-8,-72,-10],
[-67,2,-64,1,-60,5,-60,8.5],[-60,5,-57,2,-54,2.3,-52,4.5],[-57,6,-58,2],[-54,5.8,-54,2.3],
[-80,-3.5,-75,-1,-70,-4],[-78.8,1.4,-75,0.2,-70,1],[-72,-10,-69,-10],
[-88.2,17,-89.2,15.8,-88.8,15.8],[-87.5,13,-85,14.5,-83.5,15],[-85.8,11,-83.7,10.8],[-83,8.3,-82.8,9.6],[-77.5,7.5,-77.3,8.6],
[-84.5,22,-82,23,-77,21,-74.5,20,-77,19.8,-78,20.7,-82,22,-84.5,22],
[-74.4,18.5,-72.5,19.9,-70,19.8,-68.4,18.6,-70.5,18.2,-72,18.1,-74.4,18.5],
[-78.3,18.4,-76.3,18.2,-77,17.8,-78.3,18.4],[-67.2,18.4,-65.7,18.3,-66.5,18,-67.2,18.4],
[-78,24.7,-77.5,24.2,-77.8,24,-78,24.7],[-75.8,23.5,-75.2,23,-75.5,22.8,-75.8,23.5],[-61.5,16.3,-61.2,16.1,-61.4,15.9,-61.5,16.3],[-61.2,14.7,-60.9,14.5,-61.1,14.3,-61.2,14.7],[-61.5,10.6,-61,10.3,-60.9,10.7,-61.5,10.6],
[-9.7,30,-13,27.5,-16,23.5,-17,21,-16.3,19,-16.5,16,-17.5,14.7,-16.7,12.5,-15,11,-13.5,9.5,-12,7.5,-9,5,-7.5,4.4,-4,5.2,-2,4.8,1,6,4,6.3,6,4.5,8,4.5,9.7,3.5,9.5,1,9,-1,11,-4,12.5,-6,13.5,-9,13.8,-10],
[32.5,30,34,27,35.5,24,37,21,37.5,18.5,39.5,15.5,43,12,43.5,11.3,45,10.5,51,12,50.5,9,48,4.5,45,2,41.5,-1.5,39.5,-4.5,39,-6.5,40,-10],
[34.8,28,36,27,39,21,41,17,43,13,45,12.8,50,15,55,17,59.8,22.5,57,24,56.3,26,54,24,51.5,25,50,27,48,30],
[48.5,30,51,28,54,26.7,57,25.7,61.5,25,66.5,25,68,23.5,69,22,72,21,72.8,19,74,15,76,10,77.5,8,79,10,80.3,14,82,17,85,19.5,87,21,89,22,90,22],
[80,9.5,81.5,8,81.5,6.5,80.3,6,79.8,8,80,9.5],
[-13,27.7,-8.7,27.7],[-8.7,30,-8.7,27.3,-4.8,25,1,21,3.3,19,4,19,12,23.5,15,23,24,19.5,24,15.5,22.5,11,19,9,15.5,7.5,15,4,18.5,3.5,24,5,27.5,5,30,3.5],
[-17,21,-13,21,-13,23,-12,23.5,-12,26,-8.7,26,-8.7,27.5],[-4.8,25,-6.5,25,-5.5,15.5,-11.5,15.5,-12,14.8,-16.3,16],
[3.3,19,4.2,15.3,1,15,0,14.9,-3,13.6,-5.3,10.3,-8,10,-8.5,7.5,-8,4.5],[-12,14.8,-11.5,12.4,-13.7,12.6,-16.7,12.5],[-11.5,12.4,-8,10],[-13.5,9.5,-10.7,10,-11,7],
[9.5,30,10,24.5,12,23.5],[15,23,15.5,20,13.5,14,14,12.5,13.5,10,9,5,8.5,4.6],[13.5,14,9,13,4,13,3,12,1,13,1,15],[3,12,2.7,6.4],[-3,5,-2.8,11,0,11,1,6],[-2.8,11,-5.3,10.3],[0,11,3,12],
[25,30,25,22,36.8,22],[24,19.5,25,22],[22.5,11,27,9,34,10,36.5,14.5],[34,10,33,7,35,5,36,4.5,41,4,45,5,48,8,42.5,11,43,11.5],[36.5,14.5,39.5,15],[36,4.5,34,4,34,0,34,-1,37.7,-3.5,39.5,-4.7],[41,4,41,-1.5],[34,-1,30,-1],
[30,3.5,29.5,-1,29,-3,29.5,-6,30.5,-8.5,28.5,-9],[30.5,-8.5,33,-9.5,34.5,-10],[30,3.5,34,4],
[15,4,16,2,9.8,2.2],[9.8,2.2,13,2,14,-2,11,-4],[18.5,3.5,17,-1,15.5,-4,12,-5.5],[12.5,-6,16,-6,17.5,-8,22,-7,22,-10],[32,-2,34,-1,33.5,0.3,32,0,32,-2],
[36,29.5,39,30],[46,29,48,28.5],[52,20,55,20,55,22,52,24],[43,17,47,17,52,19,53,16.7],[61.5,25,63,27,61,30],[68,23.5,71,25,70,27,74,30],[80,30,88,27,90,27],[88.5,22,88,26,90,25.3],
[-24,16,-23.5,15.5,-24.3,15.2,-24,16],[-16.2,28.4,-15.8,28,-16.4,28,-16.2,28.4],[53.4,12.7,54.3,12.5,53.8,12.3,53.4,12.7]];
const equatorOceanSegments = [[-90,9],[42,90]];
const meridianOceanSegment = [5.5,-10];

/* ---------- lookups ---------- */
const windGrids = {feb28:windFeb28,mar06:windMar06,mar13:windMar13,mar20:windMar20,mar27:windMar27,apr03:windApr03,apr10:windApr10,apr17:windApr17};
const contourSets = {
feb28:[mjoFeb28,kelvinFeb28,lowFeb28,erFeb28],mar06:[mjoMar06,kelvinMar06,lowMar06,erMar06],
mar13:[mjoMar13,kelvinMar13,lowMar13,erMar13],mar20:[mjoMar20,kelvinMar20,lowMar20,erMar20],
mar27:[mjoMar27,kelvinMar27,lowMar27,erMar27],apr03:[mjoApr03,kelvinApr03,lowApr03,erApr03],
apr10:[mjoApr10,kelvinApr10,lowApr10,erApr10],apr17:[mjoApr17,kelvinApr17,lowApr17,erApr17]};
const seriesNames = ['mjo','kelvin','low','er'];
const seriesColors = ['#000000','#0000ff','#a020f0','#ff0000'];

const NS = 'http://www.w3.org/2000/svg';
const plotW = 634, plotH = 141;
const colLeft = [102, 845];
const rowTop = [46, 271, 496, 721];

function make(parent, tag, attrs) {
  const node = document.createElementNS(NS, tag);
  for (const k in attrs) node.setAttribute(k, attrs[k]);
  parent.appendChild(node);
  return node;
}
function catmull(p0, p1, p2, p3, t) {
  return 0.5 * (2 * p1 + (p2 - p0) * t + (2 * p0 - 5 * p1 + 4 * p2 - p3) * t * t + (3 * p1 - p0 - 3 * p2 + p3) * t * t * t);
}
function sampleGrid(grid, lon, lat) {
  const nx = lons.length, ny = lats.length;
  const fx = (lon - lons[0]) / (lons[nx - 1] - lons[0]) * (nx - 1);
  const fy = (lats[0] - lat) / (lats[0] - lats[ny - 1]) * (ny - 1);
  const ix = Math.min(nx - 2, Math.floor(fx)), iy = Math.min(ny - 2, Math.floor(fy));
  const tx = fx - ix, ty = fy - iy;
  const cols = [];
  for (let j = -1; j <= 2; j++) {
    const row = grid[Math.max(0, Math.min(ny - 1, iy + j))];
    cols.push(catmull(row[Math.max(0, ix - 1)], row[ix], row[ix + 1], row[Math.min(nx - 1, ix + 2)], tx));
  }
  return catmull(cols[0], cols[1], cols[2], cols[3], ty);
}
function bandIndex(v) {
  let i = 0;
  while (i < breaks.length && v >= breaks[i]) i++;
  return i;
}
function smoothPath(flat, xOf, yOf) {
  const pts = [];
  for (let i = 0; i < flat.length; i += 2) pts.push([xOf(flat[i]), yOf(flat[i + 1])]);
  const closed = pts.length > 3 && flat[0] === flat[flat.length - 2] && flat[1] === flat[flat.length - 1];
  if (closed) pts.pop();
  const n = pts.length;
  const at = function (i) { return closed ? pts[(i + n) % n] : pts[Math.max(0, Math.min(n - 1, i))]; };
  let d = 'M' + pts[0][0].toFixed(1) + ' ' + pts[0][1].toFixed(1);
  const segs = closed ? n : n - 1;
  for (let i = 0; i < segs; i++) {
    const a = at(i - 1), b = at(i), c = at(i + 1), e = at(i + 2);
    d += 'C' + (b[0] + (c[0] - a[0]) / 6).toFixed(1) + ' ' + (b[1] + (c[1] - a[1]) / 6).toFixed(1) + ' ' +
      (c[0] - (e[0] - b[0]) / 6).toFixed(1) + ' ' + (c[1] - (e[1] - b[1]) / 6).toFixed(1) + ' ' +
      c[0].toFixed(1) + ' ' + c[1].toFixed(1);
  }
  return d + (closed ? 'Z' : '');
}
function straightPath(flat, xOf, yOf) {
  let d = '';
  for (let i = 0; i < flat.length; i += 2) {
    d += (i ? 'L' : 'M') + xOf(flat[i]).toFixed(1) + ' ' + yOf(flat[i + 1]).toFixed(1);
  }
  return d;
}

/* ---------- draw the eight panels ---------- */
const panelRoot = document.getElementById('panels');
panelKeys.forEach(function (key, index) {
  const left = colLeft[index < 4 ? 0 : 1];
  const top = rowTop[index % 4];
  const xOf = function (lon) { return left + (lon + 90) / 180 * plotW; };
  const yOf = function (lat) { return top + (30 - lat) / 40 * plotH; };

  const panel = make(panelRoot, 'g', {});
  
  

  const clip = make(panel, 'clipPath', {id: 'clip-' + key});
  make(clip, 'rect', {x: left, y: top, width: plotW, height: plotH});

  const layer = make(panel, 'g', {'clip-path': 'url(#clip-' + key + ')'});
  
  

  /* filled wind classes */
  const step = 1;
  const bands = bandColors.map(function () { return []; });
  const grid = windGrids[key];
  for (let py = 0; py < plotH; py += step) {
    let runStart = 0, runBand = -1;
    for (let px = 0; px <= plotW; px += step) {
      let b = -2;
      if (px < plotW) {
        const lon = -90 + (px + step / 2) / plotW * 180;
        const lat = 30 - (py + step / 2) / plotH * 40;
        b = bandIndex(sampleGrid(grid, lon, lat));
      }
      if (b !== runBand) {
        if (runBand >= 0) bands[runBand].push('M' + (left + runStart) + ' ' + (top + py) + 'h' + (px - runStart) + 'v' + step + 'h-' + (px - runStart) + 'z');
        runStart = px;
        runBand = b;
      }
    }
  }
  bands.forEach(function (parts, i) {
    if (!parts.length) return;
    const band = make(layer, 'path', {d: parts.join(''), fill: bandColors[i], 'shape-rendering': 'crispEdges'});
    
    
  });

  /* coastlines */
  let coastD = '';
  coastlines.forEach(function (flat) { coastD += straightPath(flat, xOf, yOf); });
  const coast = make(layer, 'path', {d: coastD, fill: 'none', stroke: '#505050', 'stroke-width': 1.8, 'stroke-linejoin': 'round'});
  
  

  /* equator and prime meridian over ocean */
  equatorOceanSegments.forEach(function (seg) {
    const eq = make(layer, 'line', {x1: xOf(seg[0]), x2: xOf(seg[1]), y1: yOf(0), y2: yOf(0), stroke: '#444444', 'stroke-width': 1.5, 'stroke-dasharray': '4 3'});
    
    
  });
  const mer = make(layer, 'line', {x1: xOf(0), x2: xOf(0), y1: yOf(meridianOceanSegment[0]), y2: yOf(meridianOceanSegment[1]), stroke: '#444444', 'stroke-width': 1.5, 'stroke-dasharray': '4 3'});
  
  

  /* wave contours */
  contourSets[key].forEach(function (lines, s) {
    lines.forEach(function (flat) {
      const line = make(layer, 'path', {d: smoothPath(flat, xOf, yOf), fill: 'none', stroke: seriesColors[s], 'stroke-width': 2.3});
      
      
    });
  });

  /* frame and ticks */
  const frame = make(panel, 'rect', {x: left, y: top, width: plotW, height: plotH, fill: 'none', stroke: '#000', 'stroke-width': 3});
  
  
  let tickD = '';
  for (let lon = -90; lon <= 90; lon += 10) {
    const len = lon % 60 === 0 ? 6 : 3.5;
    tickD += 'M' + xOf(lon).toFixed(1) + ' ' + (top - len - 1) + 'v' + (len + 1) + 'M' + xOf(lon).toFixed(1) + ' ' + (top + plotH) + 'v' + (len + 1);
  }
  for (let lat = -10; lat <= 30; lat += 2) {
    const len = lat % 10 === 0 ? 4 : 2.5;
    tickD += 'M' + (left - len - 1) + ' ' + yOf(lat).toFixed(1) + 'h' + (len + 1) + 'M' + (left + plotW) + ' ' + yOf(lat).toFixed(1) + 'h' + (len + 1);
  }
  const ticks = make(panel, 'path', {d: tickD, stroke: '#000', 'stroke-width': 1.5, fill: 'none'});
  
  
});

/* ---------- colour bar ---------- */
const barRoot = document.getElementById('colorbar');
const barLeft = 230, barTop = 979, barH = 22, barBox = (832 - 230) / bandColors.length;
bandColors.forEach(function (color, i) {
  const box = make(barRoot, 'rect', {x: barLeft + i * barBox, y: barTop, width: barBox, height: barH, fill: color, stroke: '#111', 'stroke-width': 1.5});
  
  
});
</script>
</body>
</html>
